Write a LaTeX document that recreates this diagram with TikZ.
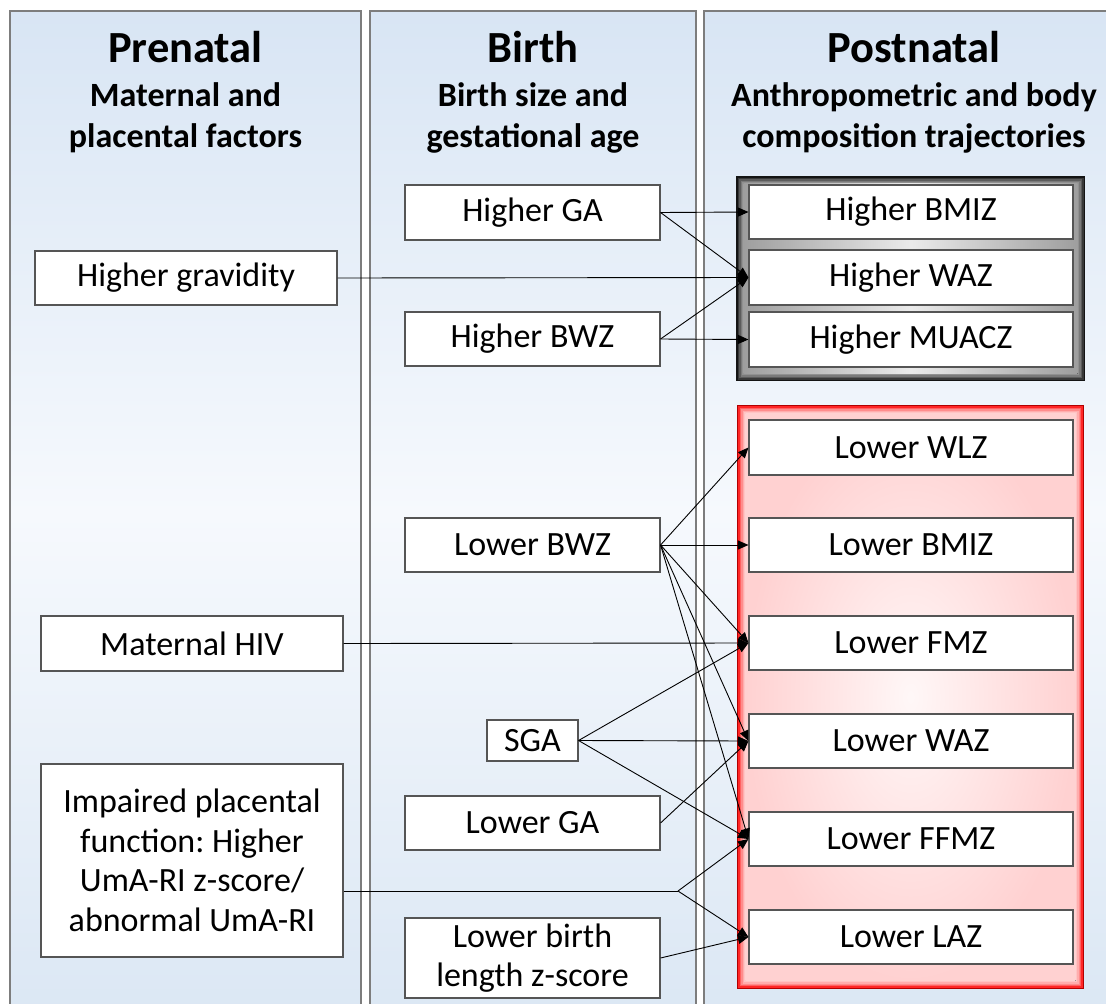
\documentclass[tikz,border=0pt]{standalone}
\usepackage{fontspec}
\setmainfont{Carlito}
\frenchspacing
\usetikzlibrary{arrows.meta}
\definecolor{panelTop}{RGB}{216,229,244}
\definecolor{panelMid}{RGB}{246,249,253}
\definecolor{panelBot}{RGB}{219,231,244}
\definecolor{panelEdge}{RGB}{125,125,125}
\definecolor{boxEdge}{RGB}{85,85,85}
\begin{document}
\begin{tikzpicture}[x=1pt,y=-1pt,
  panel/.style={draw=panelEdge, line width=1.3pt, top color=panelTop, bottom color=panelBot, middle color=panelMid},
  hdr/.style={font=\fontsize{44.5}{50}\selectfont\bfseries, anchor=base, inner sep=0pt},
  sub/.style={font=\fontsize{34}{40}\selectfont\bfseries, anchor=base, inner sep=0pt},
  item/.style={draw=boxEdge, line width=1.1pt, fill=white, inner sep=0pt, align=center,
               font=\fontsize{34}{39.5}\selectfont},
  boxsize/.style 2 args={minimum width=#1pt, minimum height=#2pt},
  link/.style={line width=0.9pt, -{Triangle[length=10.5pt,width=9pt]}},
  plain/.style={line width=0.9pt}
]
\clip (0,0) rectangle (1106,1004);
\fill[white] (0,0) rectangle (1106,1004);

% three stage panels
\path[panel] (10,11) rectangle (361,1016);
\path[panel] (370,11) rectangle (696,1016);
\path[panel] (704,11) rectangle (1124,1016);

% panel headings
\node[hdr] (tpre) at (185.5,62) {Prenatal};
\node[sub] (spre1) at (185.5,106) {Maternal and};
\node[sub] (spre2) at (185.5,147) {placental factors};
\node[hdr] (tbir) at (533,62) {Birth};
\node[sub] (sbir1) at (533,106) {Birth size and};
\node[sub] (sbir2) at (533,147) {gestational age};
\node[hdr] (tpost) at (914,62) {Postnatal};
\node[sub] (spost1) at (914,106) {Anthropometric and body};
\node[sub] (spost2) at (914,147) {composition trajectories};

% grey frame around the "higher" outcomes
\foreach \d/\c in {0/black!92, 1.5/black!78, 3/black!64, 4.5/black!52, 6/black!43}
  \fill[\c] ({736+\d},{176+\d}) rectangle ({1085-\d},{381-\d});
\fill[left color=black!38, right color=black!38, middle color=black!8] (743.5,183.5) rectangle (1077.5,373.5);

% red frame around the "lower" outcomes
\foreach \d/\c in {0/red!70!black, 1.3/red!85, 2.6/red!62, 4/red!45, 5.5/red!32, 7/red!23}
  \fill[\c] ({737+\d},{405+\d}) rectangle ({1084-\d},{989-\d});
\fill[inner color=red!3, outer color=red!18] (745.5,413.5) rectangle (1075.5,980.5);

% prenatal factors
\node[item, boxsize={302}{54}] (grav) at (186,278) {Higher gravidity};
\node[item, boxsize={302}{55}] (hiv) at (192,643.5) {Maternal HIV};
\node[item, boxsize={302}{193}] (imp) at (192,860.5) {Impaired placental\\function: Higher\\UmA-RI z-score/\\abnormal UmA-RI};

% birth factors
\node[item, boxsize={255}{55}] (hga) at (532.5,212.5) {Higher GA};
\node[item, boxsize={255}{54}] (hbwz) at (532.5,339) {Higher BWZ};
\node[item, boxsize={255}{54}] (lbwz) at (532.5,545) {Lower BWZ};
\node[item, boxsize={91}{41}] (sga) at (532.5,740.5) {SGA};
\node[item, boxsize={255}{54}] (lga) at (532.5,823) {Lower GA};
\node[item, boxsize={255}{80}] (lbl) at (532.5,958) {Lower birth\\length z-score};

% postnatal outcomes
\node[item, boxsize={324}{54}] (hbmiz) at (911,212) {Higher BMIZ};
\node[item, boxsize={324}{55}] (hwaz) at (911,277.5) {Higher WAZ};
\node[item, boxsize={324}{55}] (hmuacz) at (911,339.5) {Higher MUACZ};
\node[item, boxsize={324}{55}] (lwlz) at (911,447.5) {Lower WLZ};
\node[item, boxsize={324}{54}] (lbmiz) at (911,545) {Lower BMIZ};
\node[item, boxsize={324}{54}] (lfmz) at (911,643) {Lower FMZ};
\node[item, boxsize={324}{54}] (lwaz) at (911,741) {Lower WAZ};
\node[item, boxsize={324}{54}] (lffmz) at (911,839) {Lower FFMZ};
\node[item, boxsize={324}{54}] (llaz) at (911,937) {Lower LAZ};

% associations
\draw[link] (hga.east) -- (hbmiz.west);
\draw[link] (hga.east) -- (hwaz.west);
\draw[link] (grav.east) -- (hwaz.west);
\draw[link] (hbwz.east) -- (hwaz.west);
\draw[link] (hbwz.east) -- (hmuacz.west);

\draw[link] (lbwz.east) -- (lwlz.west);
\draw[link] (lbwz.east) -- (lbmiz.west);
\draw[link] (lbwz.east) -- (lfmz.west);
\draw[link] (lbwz.east) -- (lwaz.west);
\draw[link] (lbwz.east) -- (lffmz.west);

\draw[link] (hiv.east) -- (lfmz.west);

\draw[link] (sga.east) -- (lfmz.west);
\draw[link] (sga.east) -- (lwaz.west);
\draw[link] (sga.east) -- (lffmz.west);

\draw[link] (lga.east) -- (lwaz.west);

\coordinate (fork) at (678,891);
\draw[plain] (imp.east |- fork) -- (fork);
\draw[link] (fork) -- (lffmz.west);
\draw[link] (fork) -- (llaz.west);

\draw[link] (lbl.east) -- (llaz.west);
\end{tikzpicture}
\end{document}
